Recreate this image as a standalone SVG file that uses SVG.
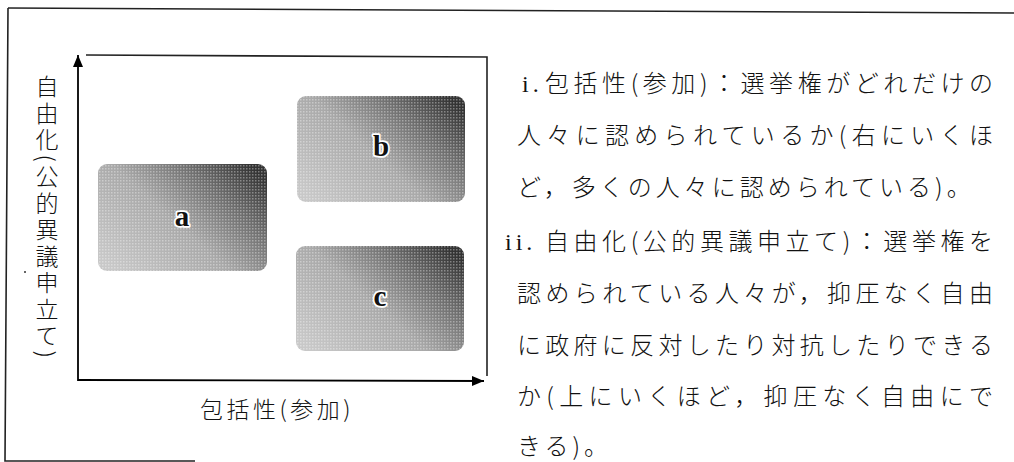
<svg xmlns="http://www.w3.org/2000/svg" width="1014" height="462" viewBox="0 0 1014 462">
<style>
.jp{font-family:"Noto Sans CJK JP","Noto Sans CJK SC",sans-serif;fill:#111;font-weight:300;}
.body{font-size:24px;}
.roman{font-family:"Liberation Serif",serif;font-size:24px;fill:#111;}
.lbl{font-family:"Liberation Serif",serif;font-weight:bold;font-size:29px;fill:#111;stroke:#fff;stroke-width:3.5;paint-order:stroke;stroke-linejoin:round;text-anchor:middle;}
.frame{fill:none;stroke:#222;stroke-width:1.6;}
.axis{fill:none;stroke:#000;stroke-width:1.8;}
.box{stroke:none;}
</style>
<defs>
<linearGradient id="g" x1="0" y1="0.85" x2="1" y2="0.15">
<stop offset="0" stop-color="#c8c8c8"/>
<stop offset="0.45" stop-color="#a9a9a9"/>
<stop offset="0.75" stop-color="#6e6e6e"/>
<stop offset="1" stop-color="#333"/>
</linearGradient>
<pattern id="ht" width="3" height="3" patternUnits="userSpaceOnUse">
<rect width="1.5" height="1.5" fill="#fff" opacity="0.35"/>
</pattern>
<marker id="ah" viewBox="0 0 12 10" refX="12" refY="5" markerWidth="12" markerHeight="10" markerUnits="userSpaceOnUse" orient="auto">
<path d="M0,0 L12,5 L0,10 Z" fill="#000"/>
</marker>
</defs>
<rect width="1014" height="462" fill="#fff"/>
<g id="frame">
<path class="frame" d="M8,8 L1014,13"/>
<path class="frame" d="M8,8 L5,461 L195,461"/>
<path class="frame" d="M86,55 L487,57 L487,376"/>
<circle cx="25" cy="272" r="1" fill="#333"/>
</g>
<g id="connectors">
<line class="axis" x1="78" y1="381" x2="78" y2="55" marker-end="url(#ah)"/>
<line class="axis" x1="78" y1="380" x2="484" y2="381" marker-end="url(#ah)"/>
</g>
<g id="node-a">
<rect class="box" x="98" y="164" width="169" height="107" rx="9" fill="url(#g)"/>
<rect x="98" y="164" width="169" height="107" rx="9" fill="url(#ht)"/>
<text class="lbl" x="182" y="226">a</text>
</g>
<g id="node-b">
<rect class="box" x="297" y="96" width="168" height="106" rx="9" fill="url(#g)"/>
<rect x="297" y="96" width="168" height="106" rx="9" fill="url(#ht)"/>
<text class="lbl" x="381" y="156">b</text>
</g>
<g id="node-c">
<rect class="box" x="296" y="246" width="168" height="105" rx="9" fill="url(#g)"/>
<rect x="296" y="246" width="168" height="105" rx="9" fill="url(#ht)"/>
<text class="lbl" x="380" y="306">c</text>
</g>
<g id="axis-labels">
<text class="jp" x="47" y="75" font-size="23" letter-spacing="3.5" style="writing-mode:vertical-rl;text-orientation:mixed">自由化(公的異議申立て)</text>
<text class="jp" x="200" y="418" font-size="23" letter-spacing="3.5">包括性(参加)</text>
</g>
<g id="description" class="jp body">
<text class="roman" x="522" y="92" letter-spacing="4">i.</text>
<text x="545" y="92" textLength="448" lengthAdjust="spacing">包括性(参加)：選挙権がどれだけの</text>
<text x="517" y="144" textLength="476" lengthAdjust="spacing">人々に認められているか(右にいくほ</text>
<text x="517" y="196" letter-spacing="4">ど，多くの人々に認められている)。</text>
<text class="roman" x="505" y="250" letter-spacing="4">ii.</text>
<text x="545" y="250" textLength="448" lengthAdjust="spacing">自由化(公的異議申立て)：選挙権を</text>
<text x="517" y="302" textLength="476" lengthAdjust="spacing">認められている人々が，抑圧なく自由</text>
<text x="517" y="354" textLength="476" lengthAdjust="spacing">に政府に反対したり対抗したりできる</text>
<text x="517" y="405" textLength="476" lengthAdjust="spacing">か(上にいくほど，抑圧なく自由にで</text>
<text x="517" y="455" letter-spacing="4">きる)。</text>
</g>
</svg>
